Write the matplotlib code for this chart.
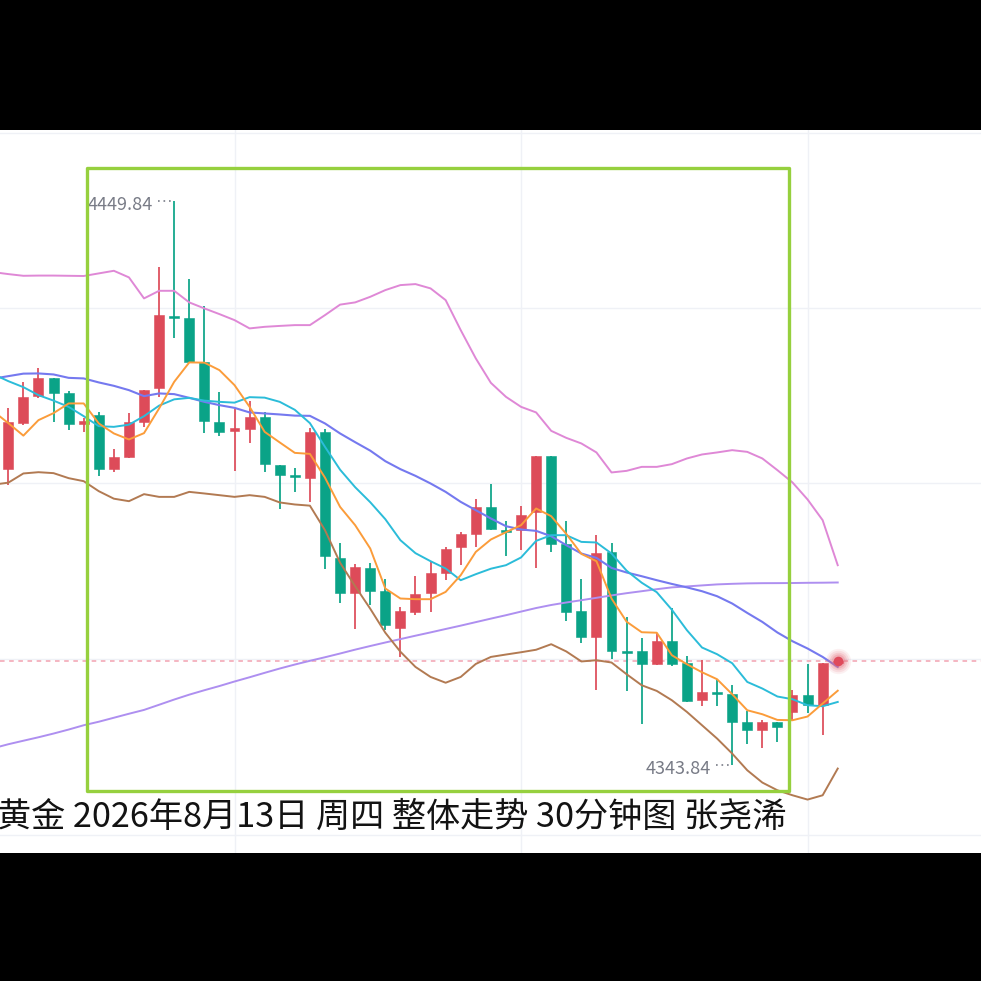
import matplotlib
matplotlib.use('Agg')
import matplotlib.pyplot as plt
from matplotlib.patches import Rectangle
import numpy as np

plt.rcParams['font.family'] = ['Noto Sans CJK SC', 'DejaVu Sans']

# ---------------- data (30-minute gold candles) ----------------
opens = [4399.47, 4408.12, 4413.19, 4416.58, 4413.76, 4407.93, 4409.63, 4399.47, 4401.73, 4408.31,
         4414.70, 4428.14, 4427.86, 4419.59, 4408.31, 4406.62, 4406.99, 4409.25, 4400.22, 4398.16,
         4397.78, 4406.43, 4382.75, 4376.17, 4380.87, 4376.55, 4369.59, 4372.60, 4376.17, 4379.93,
         4384.81, 4387.26, 4392.33, 4388.01, 4388.01, 4391.39, 4401.92, 4385.38, 4372.79, 4367.90,
         4383.87, 4365.27, 4365.27, 4362.83, 4367.15, 4363.02, 4356.06, 4357.56, 4357.19, 4351.92,
         4350.42, 4351.92, 4353.80, 4357.00, 4355.12, 4363.00]
highs = [4410.94, 4415.82, 4418.46, 4416.60, 4414.14, 4409.06, 4410.19, 4403.24, 4410.00, 4414.40,
         4437.44, 4449.84, 4435.19, 4430.11, 4413.95, 4410.75, 4412.26, 4410.19, 4400.30, 4399.66,
         4407.18, 4406.99, 4385.57, 4381.62, 4381.81, 4378.80, 4373.54, 4379.36, 4382.18, 4384.81,
         4387.63, 4393.83, 4396.65, 4389.70, 4392.52, 4402.00, 4402.00, 4389.70, 4378.80, 4387.07,
         4385.57, 4371.66, 4367.71, 4368.65, 4373.35, 4364.33, 4363.58, 4360.01, 4358.88, 4353.99,
         4352.30, 4352.00, 4357.94, 4362.83, 4363.10, 4363.60]
lows = [4396.47, 4407.74, 4412.90, 4408.31, 4406.81, 4406.43, 4398.16, 4398.91, 4401.60, 4407.37,
        4413.00, 4424.10, 4419.40, 4406.24, 4405.68, 4399.10, 4404.36, 4398.91, 4391.96, 4395.15,
        4393.27, 4380.68, 4374.29, 4369.41, 4373.92, 4369.22, 4364.14, 4372.03, 4372.60, 4378.61,
        4381.43, 4384.81, 4388.10, 4383.12, 4384.25, 4380.87, 4383.87, 4370.91, 4366.77, 4357.94,
        4363.77, 4357.75, 4351.55, 4362.70, 4362.45, 4355.68, 4354.93, 4354.93, 4343.84, 4347.79,
        4347.04, 4348.17, 4352.30, 4353.62, 4349.48, 4362.90]
closes = [4408.31, 4413.00, 4416.58, 4413.76, 4407.93, 4408.50, 4399.47, 4401.73, 4408.31, 4414.32,
          4428.42, 4427.95, 4419.59, 4408.50, 4406.43, 4407.18, 4409.25, 4400.41, 4398.35, 4397.97,
          4406.43, 4383.12, 4376.17, 4381.05, 4376.55, 4370.16, 4372.79, 4375.98, 4379.93, 4384.44,
          4387.26, 4392.33, 4388.20, 4387.63, 4390.83, 4401.92, 4385.38, 4372.60, 4367.90, 4383.69,
          4365.27, 4364.99, 4362.83, 4367.15, 4362.83, 4355.87, 4357.56, 4357.19, 4351.92, 4350.42,
          4351.92, 4350.98, 4357.00, 4355.12, 4363.00, 4363.40]

# indicator lines, bar index -1 .. 55
ma5 = [4410.35, 4408.10, 4405.75, 4408.66, 4409.98, 4411.80, 4411.80, 4408.04, 4406.16, 4405.03,
       4406.22, 4410.86, 4415.86, 4419.51, 4419.47, 4418.06, 4415.24, 4411.16, 4406.46, 4404.47,
       4402.51, 4402.32, 4397.85, 4392.36, 4388.92, 4384.54, 4377.02, 4375.14, 4375.01, 4375.01,
       4376.38, 4379.52, 4383.90, 4386.23, 4387.60, 4388.92, 4392.06, 4390.61, 4387.28, 4383.52,
       4382.15, 4375.14, 4370.78, 4368.80, 4368.71, 4364.48, 4362.79, 4361.28, 4359.97, 4357.15,
       4354.14, 4353.39, 4352.32, 4352.26, 4352.96, 4355.40, 4357.81]
ma10 = [4417.31, 4415.99, 4414.86, 4413.36, 4412.33, 4411.16, 4409.41, 4407.53, 4407.40, 4407.81,
        4409.41, 4411.39, 4412.57, 4412.85, 4412.33, 4412.10, 4411.95, 4412.98, 4412.89, 4412.10,
        4410.60, 4408.10, 4403.64, 4399.35, 4396.06, 4393.24, 4390.05, 4386.10, 4383.66, 4382.15,
        4380.78, 4378.58, 4379.71, 4380.74, 4381.40, 4382.85, 4385.97, 4387.04, 4387.04, 4385.78,
        4385.67, 4383.60, 4380.37, 4378.11, 4376.32, 4373.03, 4369.18, 4365.93, 4364.67, 4362.98,
        4359.46, 4358.22, 4356.72, 4356.21, 4355.08, 4354.89, 4355.70]
ma20 = [4416.46, 4416.93, 4417.40, 4417.44, 4417.25, 4416.61, 4416.50, 4415.75, 4415.11, 4414.30,
        4413.17, 4413.68, 4413.55, 4412.85, 4412.10, 4411.48, 4410.97, 4410.11, 4409.92, 4409.73,
        4409.51, 4409.47, 4408.04, 4406.16, 4404.52, 4402.93, 4400.95, 4399.45, 4398.19, 4396.76,
        4395.18, 4393.30, 4391.74, 4390.18, 4388.73, 4388.11, 4387.85, 4386.85, 4385.16, 4383.60,
        4382.77, 4380.89, 4380.03, 4379.33, 4378.58, 4377.88, 4377.23, 4376.51, 4375.57, 4374.20,
        4372.43, 4370.74, 4368.75, 4367.11, 4365.74, 4364.16, 4362.28]
ma_long = [4347.00, 4347.75, 4348.41, 4349.06, 4349.76, 4350.51, 4351.32, 4351.98, 4352.73, 4353.48,
           4354.20, 4355.17, 4356.15, 4357.07, 4357.90, 4358.69, 4359.54, 4360.34, 4361.17, 4361.98,
           4362.73, 4363.43, 4364.10, 4364.80, 4365.53, 4366.21, 4366.87, 4367.51, 4368.15, 4368.77,
           4369.41, 4370.04, 4370.70, 4371.36, 4372.00, 4372.68, 4373.35, 4373.92, 4374.39, 4374.82,
           4375.27, 4375.72, 4376.14, 4376.51, 4376.89, 4377.23, 4377.41, 4377.60, 4377.79, 4377.90,
           4377.98, 4378.02, 4378.03, 4378.05, 4378.09, 4378.11, 4378.15]
boll_up = [4436.48, 4436.11, 4435.79, 4435.83, 4435.83, 4435.79, 4435.75, 4436.24, 4436.73, 4435.49,
           4431.54, 4432.97, 4432.97, 4430.79, 4429.66, 4428.59, 4427.46, 4425.90, 4426.20, 4426.37,
           4426.52, 4426.52, 4428.40, 4430.37, 4430.79, 4431.84, 4433.10, 4434.04, 4434.23, 4433.42,
           4431.22, 4425.58, 4420.26, 4415.67, 4413.04, 4411.16, 4410.11, 4406.65, 4405.33, 4404.28,
           4402.59, 4398.83, 4399.13, 4399.88, 4399.88, 4400.39, 4401.46, 4402.21, 4402.59, 4403.02,
           4402.70, 4401.46, 4399.26, 4396.95, 4393.75, 4389.86, 4381.40]
boll_dn = [4396.53, 4396.91, 4398.64, 4398.88, 4398.70, 4397.76, 4397.19, 4395.31, 4393.90, 4393.43,
           4394.75, 4394.24, 4394.24, 4395.18, 4394.88, 4394.56, 4394.24, 4394.56, 4394.24, 4393.19,
           4392.81, 4392.59, 4387.98, 4381.87, 4377.45, 4373.22, 4368.71, 4365.14, 4362.28, 4360.40,
           4359.31, 4360.40, 4362.84, 4364.16, 4364.61, 4365.04, 4365.51, 4366.55, 4365.19, 4363.31,
           4363.54, 4363.11, 4360.91, 4358.84, 4357.77, 4356.02, 4353.82, 4351.32, 4348.82, 4346.00,
           4342.86, 4340.55, 4339.10, 4338.16, 4337.35, 4338.16, 4343.18]

grid_prices = [4330.6, 4363.7, 4396.8, 4429.7, 4462.7]
grid_bars = [15, 34, 53]
title_text = "黄金 2026年8月13日 周四 整体走势 30分钟图 张尧浠"

# ---------------- styling ----------------
UP = '#dd4b59'
DOWN = '#0aa387'

fig = plt.figure(figsize=(9.81, 9.81), dpi=100, facecolor='black')
ax = fig.add_axes([0, 128 / 981, 1, 723 / 981])
ax.set_facecolor('white')

n = len(opens)
idx = np.arange(n)
o = np.array(opens); h = np.array(highs); l = np.array(lows); c = np.array(closes)
cols = [UP if cc >= oo else DOWN for oo, cc in zip(o, c)]

ax.set_xlim(-0.55, 64.5)
ax.set_ylim(4327.31, 4463.19)

# grid
ax.set_yticks(grid_prices)
ax.set_xticks(grid_bars)
ax.grid(True, color='#eff1f6', lw=1.0)
ax.tick_params(left=False, bottom=False, labelleft=False, labelbottom=False)
for s in ax.spines.values():
    s.set_visible(False)
ax.set_axisbelow(True)

# last price dashed line
last = c[-1]
ax.axhline(last, color='#f3a2b1', lw=1.1, ls=(0, (3, 3)), zorder=2)

# candles
ax.vlines(idx, l, h, colors=cols, lw=1.25, zorder=3)
body_lo = np.minimum(o, c)
body_h = np.maximum(np.abs(c - o), 0.3)
ax.bar(idx, body_h, bottom=body_lo, width=0.66, color=cols, edgecolor=cols, lw=0.4, zorder=3)

# indicator lines
lx = np.arange(-1, len(ma5) - 1)
ax.plot(lx, ma_long, color='#ae8ff0', lw=1.4, zorder=4)
ax.plot(lx, boll_up, color='#df88d6', lw=1.4, zorder=4)
ax.plot(lx, boll_dn, color='#b27a52', lw=1.4, zorder=4)
ax.plot(lx, ma20, color='#7579ef', lw=1.5, zorder=4)
ax.plot(lx, ma10, color='#2bbcd9', lw=1.4, zorder=4)
ax.plot(lx, ma5, color='#fb9c3a', lw=1.4, zorder=4)

# glowing last-price dot
for s_, a_ in [(330, 0.10), (240, 0.14), (160, 0.20), (100, 0.28)]:
    ax.scatter([idx[-1]], [last], s=s_, color='#e4707e', alpha=a_, lw=0, zorder=6)
ax.scatter([idx[-1]], [last], s=48, color='#df4a5b', lw=0, zorder=7)

# high / low labels
hi_i = int(np.argmax(h)); lo_i = int(np.argmin(l))
for i_, v_ in [(hi_i, h[hi_i]), (lo_i, l[lo_i])]:
    ax.plot([i_ - 1.05, i_ - 0.05], [v_, v_], color='#787b86', lw=1.2, ls=(0, (1, 2.3)), zorder=5)
    ax.annotate(f"{v_:.2f}", xy=(i_, v_), xytext=(-15.5, -2.8), textcoords='offset points',
                ha='right', va='center', fontsize=13, color='#787b86', zorder=5)

# green highlight frame
rect = Rectangle((87.3 / 981, (853 - 790.7) / 723), (789 - 87.3) / 981, (790.7 - 168.3) / 723,
                 transform=ax.transAxes, fill=False, edgecolor='#96d03e', lw=2.4,
                 joinstyle='round', zorder=8)
ax.add_patch(rect)

# caption
ax.text(-3 / 981, (853 - 817) / 723, title_text, transform=ax.transAxes, ha='left', va='center',
        fontsize=24.6, color='#131313', zorder=9)

fig.savefig('out.png', dpi=100, facecolor='black')
